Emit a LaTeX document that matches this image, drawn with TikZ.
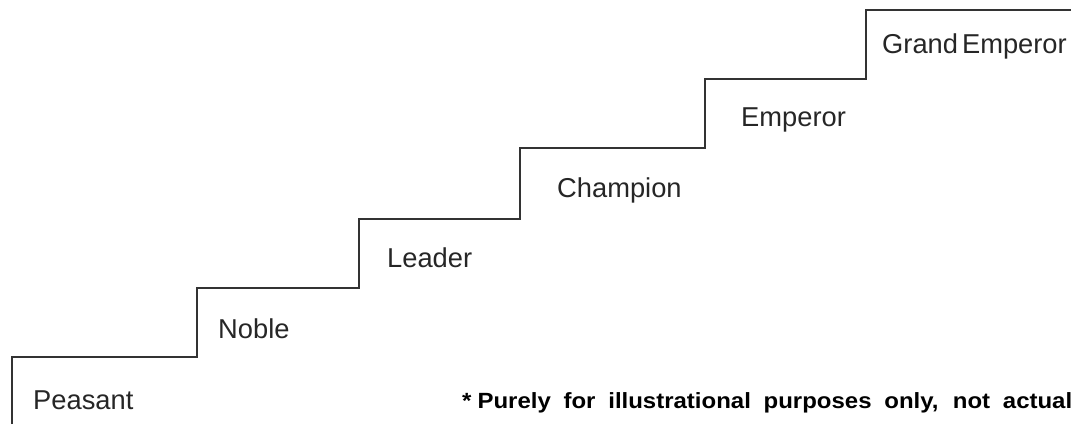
\documentclass[tikz,border=0pt]{standalone}
\usepackage{fontspec}
\setmainfont{Liberation Sans}
\newfontfamily\notefont[FakeStretch=1.09]{Liberation Sans}
\begin{document}
\begin{tikzpicture}[x=1pt,y=-1pt,
  stair/.style={draw=black!80,line width=1.5pt},
  lvl/.style={anchor=base west,inner sep=0pt,font=\fontsize{27.3}{31}\selectfont,text=black!85},
  note/.style={anchor=base west,inner sep=0pt,font=\notefont\bfseries\fontsize{22}{26}\selectfont}]
\useasboundingbox (0,0) rectangle (1080,424);
\draw[stair] (12,424) -- (12,357) -- (197,357) -- (197,288) -- (359,288) -- (359,219)
  -- (520,219) -- (520,148) -- (705,148) -- (705,79) -- (866,79) -- (866,10) -- (1071,10);
\node[lvl] (peasant) at (33,409) {Peasant};
\node[lvl] (noble) at (218,338) {Noble};
\node[lvl] (leader) at (387,267) {Leader};
\node[lvl] (champion) at (557,197) {Champion};
\node[lvl] (emperor) at (741,126) {Emperor};
\node[lvl] (grand) at (882,53) {Grand\kern4pt Emperor};
\node[note] (note) at (462,408) {\makebox[610pt][s]{*\kern6pt Purely for illustrational purposes only, not actual}};
\end{tikzpicture}
\end{document}
